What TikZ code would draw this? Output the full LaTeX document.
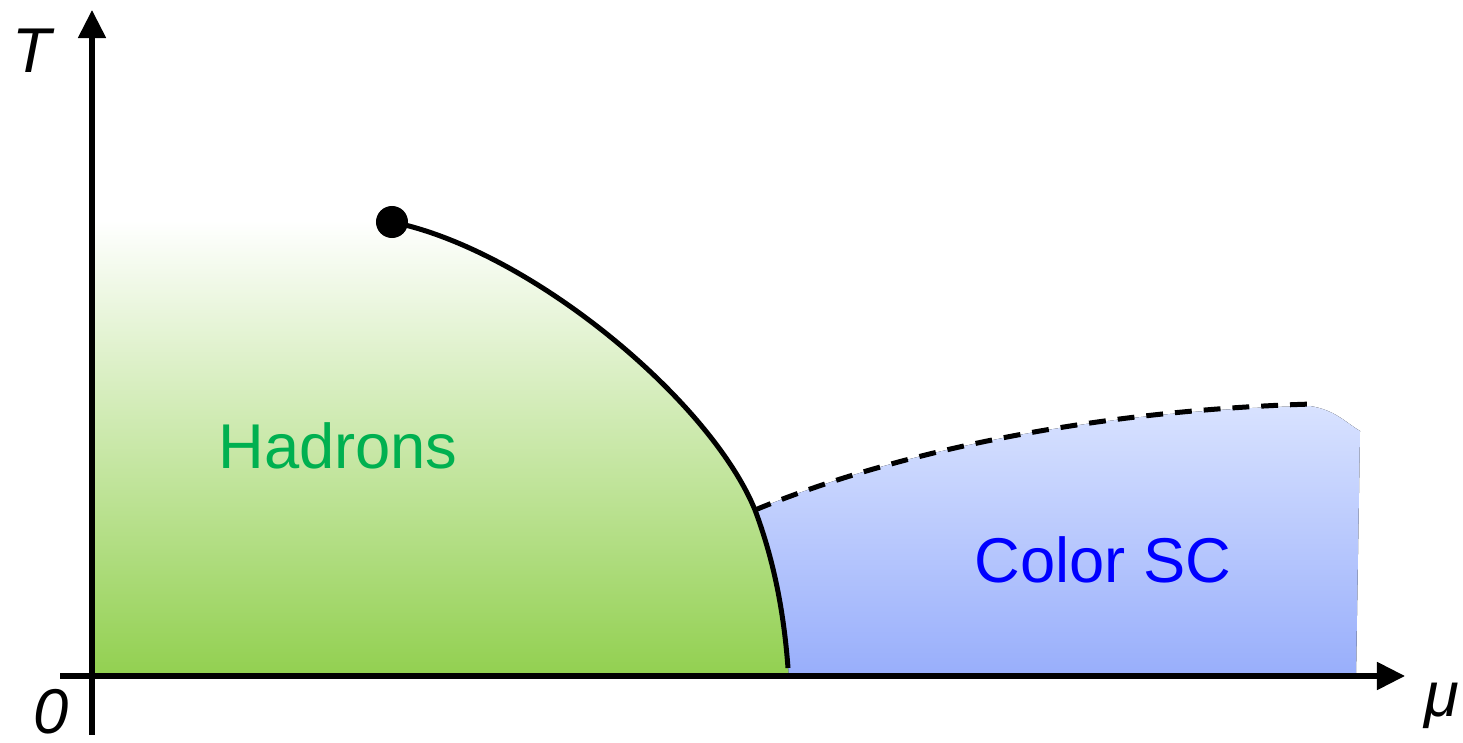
\documentclass[tikz,border=0pt]{standalone}
\usepackage{fontspec}
\setmainfont{Liberation Sans}
\usetikzlibrary{arrows.meta}
\definecolor{had}{RGB}{0,176,80}
\definecolor{hadfill}{RGB}{146,208,80}
\definecolor{csc}{RGB}{0,0,255}
\definecolor{cscfill}{RGB}{152,174,251}
\definecolor{csctop}{RGB}{216,226,255}
% green fading to white, white over the top part
\pgfdeclareverticalshading{hadsh}{100bp}{color(0bp)=(hadfill); color(25bp)=(hadfill);
  color(66bp)=(white); color(100bp)=(white)}
\tikzset{
  ax/.style={-{Triangle[length=0.28cm, width=0.27cm]}, line width=0.05cm},
  pb/.style={line width=0.05cm, line join=round},
  % label of the phases
  ph/.style={font=\fontsize{18}{22}\selectfont, anchor=base},
  axl/.style={font=\fontsize{18}{22}\selectfont\itshape, anchor=base, inner sep=0pt},
  cpt/.style={circle, fill=black, minimum size=0.32cm, inner sep=0pt}
}
\begin{document}
\begin{tikzpicture}[x=0.01cm, y=-0.01cm]
    \useasboundingbox (0,0) rectangle (1463,743);
    \coordinate (tp) at (755,510);
    \coordinate (bt) at (788,668);
    \coordinate (de) at (1313,404);
    % phase regions
    \begin{scope}
      \clip (92,676) -- (92,222) -- (392,222)
        .. controls (530,250) and (710,400) .. (tp)
        .. controls (770,550) and (783,600) .. (789,676) -- cycle;
      \shade[shading=hadsh] (92,120) rectangle (800,676);
    \end{scope}
    \fill[top color=csctop, bottom color=cscfill] (tp)
      .. controls (900,450) and (1100,410) .. (1310,406)
      .. controls (1335,410) and (1345,422) .. (1360,431) -- (1356,676) -- (789,676)
      .. controls (783,600) and (770,550) .. (tp) -- cycle;
    % axes
    \coordinate (o) at (92,676);
    \coordinate (tb) at (92,735);
    \coordinate (tt) at (92,10);
    \coordinate (ml) at (60,676);
    \coordinate (mr) at (1405,676);
    \draw[ax] (tb) -- (tt);
    \draw[ax] (ml) -- (mr);
    \node[axl] (tl) at (32,73) {T};
    \node[axl] (zl) at (51,734) {0};
    \node[axl] (ul) at (1442,717) {μ};
    % phase boundaries
    \node[cpt] (cp) at (392,222) {};
    \draw[pb] (cp.center) .. controls (530,250) and (710,400) .. (tp)
      .. controls (770,550) and (783,600) .. (bt);
    \draw[pb, dash pattern=on 4.8pt off 3.4pt] (tp)
      .. controls (900,450) and (1100,410) .. (de);
    \node[ph, text=had] (hd) at (338,469) {Hadrons};
    \node[ph, text=csc] (sc) at (1103,583) {Color SC};
\end{tikzpicture}
\end{document}
